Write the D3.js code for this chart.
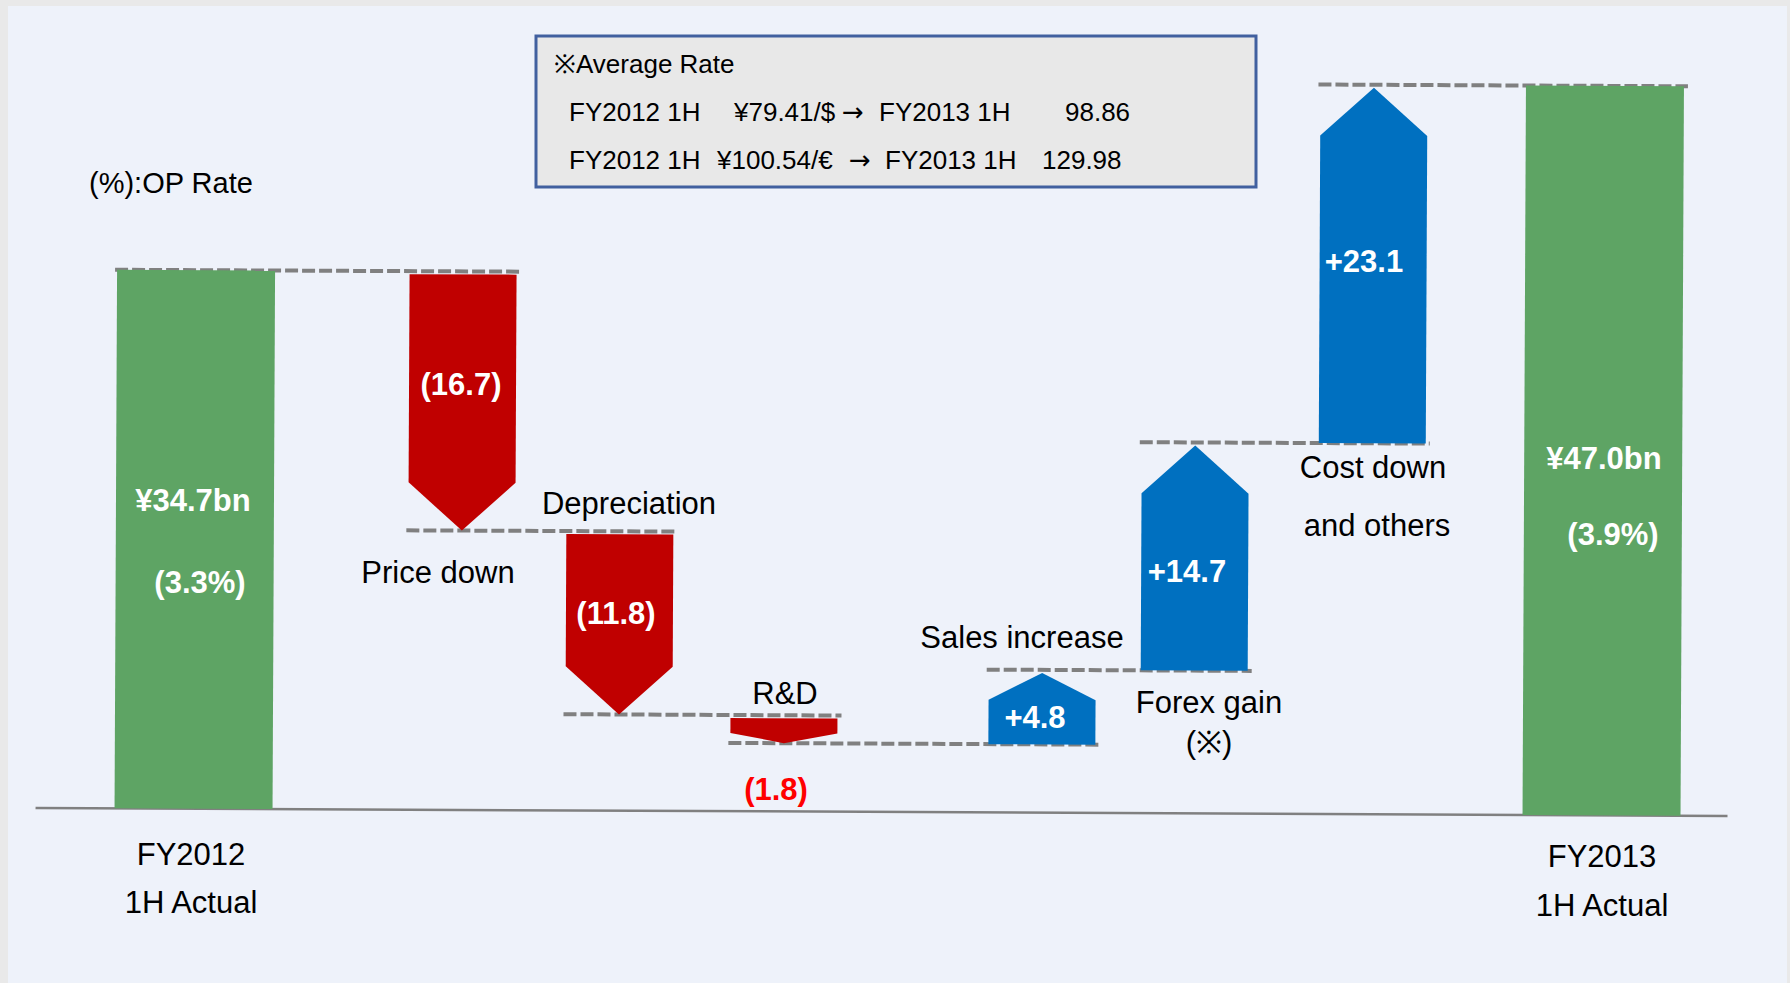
<!DOCTYPE html>
<html>
<head>
<meta charset="utf-8">
<script src="https://cdn.jsdelivr.net/npm/d3@7"></script>
<style>
  body { margin: 0; background: #e9e9e9; }
  svg { display: block; font-family: "Liberation Sans", Arial, sans-serif; }
</style>
</head>
<body>
<svg width="1790" height="983"></svg>
<script>
// data
var cats = ["FY2012 1H Actual", "Price down", "Depreciation", "R&D", "Sales increase", "Forex gain", "Cost down and others", "FY2013 1H Actual"];
var values = [34.7, -16.7, -11.8, -1.8, 4.8, 14.7, 23.1, 47.0];
var isTotal = [true, false, false, false, false, false, false, true];
var valueText = ["¥34.7bn", "(16.7)", "(11.8)", "(1.8)", "+4.8", "+14.7", "+23.1", "¥47.0bn"];
var rateText = ["(3.3%)", "", "", "", "", "", "", "(3.9%)"];
var catLines = [["FY2012", "1H Actual"], ["Price down"], ["Depreciation"], ["R&D"], ["Sales increase"], ["Forex gain", "(※)"], ["Cost down", "and others"], ["FY2013", "1H Actual"]];
var noteTitle = "(%):OP Rate";
var boxTitle = "※Average Rate";
var boxRows = [
  ["FY2012 1H", "¥79.41/$", "→", "FY2013 1H", "98.86"],
  ["FY2012 1H", "¥100.54/€", "→", "FY2013 1H", "129.98"]
];

// layout (hand placed, like the slide)
var W = 1790, H = 983;
var green = "#5ea464", red = "#c00000", blue = "#0070c0", grey = "#808080";
var centers = [195, 462, 620, 785, 1043, 1195, 1372, 1603];
var catPos = [[[191, 865], [191, 913]], [[438, 583]], [[629, 514]], [[785, 704]], [[1022, 648]], [[1209, 713], [1209, 753]], [[1373, 478], [1377, 536]], [[1602, 867], [1602, 916]]];
var valPos = [[193, 511], [461, 395], [616, 624], [776, 800], [1035, 728], [1187, 582], [1364, 272], [1604, 469]];
var ratePos = [[200, 593], null, null, null, null, null, null, [1613, 545]];
var boxRowX = [[569, 734, 842, 879, 1065], [569, 717, 849, 885, 1042]];

var svg = d3.select("svg");

var x = d3.scaleOrdinal().domain(cats).range(centers);
var y = d3.scaleLinear().domain([0, 47]).range([812, 812 - 47 * 15.52]);

// running totals
var steps = [];
var run = 0;
values.forEach(function(v, i) {
  var s, e;
  if (isTotal[i]) { s = 0; e = v; run = v; }
  else { s = run; e = run + v; run = e; }
  steps.push({cat: cats[i], v: v, start: s, end: e, total: isTotal[i], w: isTotal[i] ? 158 : 107});
});

// panel
svg.append("rect").attr("x", 8).attr("y", 6).attr("width", 1779).attr("height", H - 6).attr("fill", "#eef2fa");

var marks = svg.append("g").attr("transform", "rotate(0.27,900,500)");

// axis line
marks.append("line")
  .attr("x1", 37).attr("x2", 1729)
  .attr("y1", y(0)).attr("y2", y(0))
  .attr("stroke", grey).attr("stroke-width", 2.5);

// connector dashes
var links = steps.slice(0, -1).map(function(d, i) {
  var n = steps[i + 1];
  return {x1: x(d.cat) - d.w / 2 - 2, x2: x(n.cat) + n.w / 2 + 4, lvl: d.end};
});
marks.selectAll("line.dash").data(links).enter().append("line")
  .attr("class", "dash")
  .attr("x1", function(d) { return d.x1; })
  .attr("x2", function(d) { return d.x2; })
  .attr("y1", function(d) { return y(d.lvl); })
  .attr("y2", function(d) { return y(d.lvl); })
  .attr("stroke", grey).attr("stroke-width", 4).attr("stroke-dasharray", "13,4");

// totals
marks.selectAll("rect.total").data(steps.filter(function(d) { return d.total; })).enter().append("rect")
  .attr("class", "total")
  .attr("x", function(d) { return x(d.cat) - d.w / 2; })
  .attr("width", function(d) { return d.w; })
  .attr("y", function(d) { return y(d.end); })
  .attr("height", function(d) { return y(0) - y(d.end); })
  .attr("fill", green);

// arrows for the changes
function arrow(d) {
  var c = x(d.cat), x0 = c - d.w / 2, x1 = c + d.w / 2, top, tip, head;
  if (d.v < 0) {
    top = y(d.start) + 3; tip = y(d.end);
    head = Math.min(48, 0.4 * (tip - top));
    return [[x0, top], [x1, top], [x1, tip - head], [c, tip], [x0, tip - head]];
  }
  var bot = y(d.start);
  tip = y(d.end) + 3;
  head = Math.min(48, 0.38 * (bot - tip));
  return [[x0, bot], [x1, bot], [x1, tip + head], [c, tip], [x0, tip + head]];
}
marks.selectAll("path.delta").data(steps.filter(function(d) { return !d.total; })).enter().append("path")
  .attr("class", "delta")
  .attr("d", function(d) { return d3.line()(arrow(d)) + "Z"; })
  .attr("fill", function(d) { return d.v < 0 ? red : blue; });

// text
var fs = 31;
svg.append("text").attr("x", 89).attr("y", 193).attr("font-size", 29).attr("fill", "#000").text(noteTitle);

catLines.forEach(function(lines, i) {
  lines.forEach(function(t, j) {
    svg.append("text")
      .attr("x", catPos[i][j][0]).attr("y", catPos[i][j][1])
      .attr("text-anchor", "middle").attr("font-size", fs).attr("fill", "#000")
      .text(t);
  });
});

svg.selectAll("text.val").data(steps).enter().append("text")
  .attr("class", "val")
  .attr("x", function(d, i) { return valPos[i][0]; })
  .attr("y", function(d, i) { return valPos[i][1]; })
  .attr("text-anchor", "middle").attr("font-size", fs).attr("font-weight", "bold")
  .attr("fill", function(d, i) { return i === 3 ? "#ff0000" : "#fff"; })
  .text(function(d, i) { return valueText[i]; });

rateText.forEach(function(t, i) {
  if (!t) return;
  svg.append("text")
    .attr("x", ratePos[i][0]).attr("y", ratePos[i][1])
    .attr("text-anchor", "middle").attr("font-size", fs).attr("font-weight", "bold").attr("fill", "#fff")
    .text(t);
});

// average rate box
svg.append("rect").attr("x", 536).attr("y", 36).attr("width", 720).attr("height", 151)
  .attr("fill", "#e8e8e8").attr("stroke", "#41609f").attr("stroke-width", 3);
svg.append("text").attr("x", 554).attr("y", 73).attr("font-size", 26).attr("fill", "#000").text(boxTitle);
boxRows.forEach(function(row, r) {
  row.forEach(function(t, k) {
    svg.append("text")
      .attr("x", boxRowX[r][k]).attr("y", 121 + r * 48)
      .attr("font-size", 26).attr("fill", "#000")
      .style("font-family", t === "→" ? "'DejaVu Sans', sans-serif" : null)
      .text(t);
  });
});
</script>
</body>
</html>
